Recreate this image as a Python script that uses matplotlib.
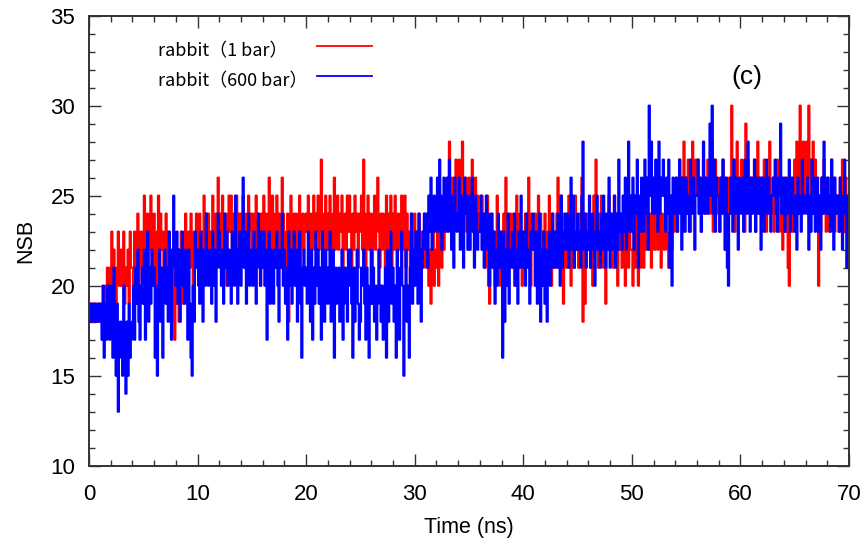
import numpy as np
import matplotlib.pyplot as plt

plt.rcParams['font.family'] = ['Liberation Sans', 'DejaVu Sans']

# NSB counts, one value every 0.1 ns, split per 10 ns
red_00 = [18, 19, 18, 19, 18, 19, 19, 18, 19, 18, 19, 18, 19, 18, 19, 20, 19, 21, 20, 19,
          21, 23, 19, 22, 20, 18, 21, 23, 20, 22, 20, 22, 23, 19, 21, 20, 22, 19, 23, 21,
          21, 20, 23, 22, 21, 24, 20, 22, 23, 21, 22, 25, 21, 23, 24, 20, 22, 25, 23, 21,
          24, 22, 20, 23, 25, 21, 24, 22, 23, 20, 22, 24, 21, 23, 20, 22, 18, 21, 19, 17,
          21, 19, 22, 18, 20, 23, 21, 19, 22, 24, 22, 20, 23, 21, 24, 22, 19, 23, 21, 24]
red_10 = [23, 21, 24, 22, 20, 23, 25, 21, 24, 22, 24, 22, 23, 21, 25, 23, 20, 24, 22, 26,
          22, 24, 21, 25, 23, 22, 24, 20, 23, 25, 23, 25, 22, 24, 21, 23, 25, 22, 24, 23,
          24, 22, 25, 23, 21, 24, 22, 25, 23, 24, 22, 24, 23, 21, 25, 22, 24, 23, 20, 24,
          23, 25, 22, 24, 23, 21, 26, 24, 22, 25, 24, 22, 23, 25, 21, 24, 22, 23, 26, 24,
          23, 21, 19, 24, 18, 22, 25, 23, 21, 24, 22, 24, 23, 21, 25, 20, 23, 24, 22, 23]
red_20 = [24, 23, 25, 21, 24, 22, 23, 25, 22, 24, 23, 25, 22, 24, 27, 23, 21, 24, 25, 22,
          24, 22, 25, 23, 21, 24, 26, 22, 23, 25, 22, 24, 23, 25, 21, 23, 24, 22, 25, 23,
          25, 23, 21, 24, 22, 25, 23, 24, 21, 24, 23, 25, 22, 27, 24, 21, 23, 25, 22, 24,
          24, 21, 23, 25, 22, 24, 26, 23, 21, 24, 22, 24, 23, 21, 25, 22, 24, 23, 25, 21,
          24, 22, 25, 23, 21, 24, 22, 23, 25, 22, 23, 25, 21, 24, 22, 23, 20, 24, 22, 23]
red_30 = [24, 22, 23, 21, 24, 22, 20, 23, 21, 24, 22, 21, 23, 20, 22, 19, 21, 23, 20, 22,
          21, 23, 20, 22, 24, 21, 23, 22, 25, 23, 24, 26, 28, 25, 23, 26, 24, 25, 27, 24,
          25, 27, 24, 26, 28, 25, 24, 26, 23, 25, 26, 24, 25, 27, 23, 25, 26, 24, 25, 23,
          24, 23, 25, 22, 24, 21, 23, 25, 20, 19, 22, 24, 21, 23, 20, 22, 25, 21, 23, 20,
          23, 21, 24, 22, 26, 20, 23, 21, 24, 22, 21, 24, 20, 22, 25, 23, 21, 24, 22, 20]
red_40 = [23, 22, 24, 21, 23, 26, 22, 20, 24, 23, 22, 24, 23, 21, 25, 22, 24, 20, 23, 22,
          24, 22, 21, 23, 25, 22, 20, 24, 23, 21, 22, 24, 26, 21, 23, 25, 22, 19, 24, 23,
          21, 23, 25, 22, 20, 24, 23, 21, 25, 22, 23, 21, 24, 22, 26, 18, 23, 19, 22, 24,
          22, 24, 21, 23, 20, 25, 22, 27, 23, 21, 24, 22, 25, 23, 21, 24, 19, 23, 22, 25,
          22, 24, 23, 21, 25, 22, 24, 20, 23, 22, 23, 21, 24, 22, 20, 25, 23, 21, 24, 22]
red_50 = [22, 20, 23, 21, 24, 22, 20, 23, 21, 24, 23, 21, 24, 22, 25, 23, 22, 24, 21, 23,
          24, 22, 23, 25, 22, 24, 23, 21, 24, 23, 22, 23, 24, 22, 21, 23, 24, 22, 25, 23,
          24, 26, 23, 25, 27, 24, 26, 23, 28, 25, 26, 24, 27, 25, 23, 26, 28, 24, 25, 27,
          25, 27, 24, 26, 23, 25, 27, 26, 24, 25, 27, 25, 24, 26, 28, 23, 25, 27, 24, 26,
          25, 23, 26, 24, 27, 25, 22, 26, 24, 25, 26, 24, 30, 25, 27, 23, 26, 28, 24, 25]
red_60 = [25, 27, 24, 26, 23, 29, 25, 27, 24, 26, 24, 26, 25, 27, 23, 25, 28, 24, 26, 25,
          26, 24, 27, 25, 23, 26, 24, 28, 25, 24, 25, 23, 26, 24, 27, 25, 23, 26, 24, 22,
          24, 26, 23, 25, 21, 20, 24, 26, 23, 25, 27, 25, 28, 26, 24, 30, 27, 25, 28, 26,
          25, 28, 26, 30, 27, 24, 26, 28, 25, 27, 26, 24, 20, 25, 23, 26, 24, 27, 25, 23,
          24, 26, 23, 25, 27, 24, 26, 23, 25, 24, 25, 23, 26, 24, 27, 25, 23, 26, 24, 25]

blue_00 = [18, 19, 18, 19, 19, 18, 19, 18, 18, 19, 19, 18, 17, 20, 16, 19, 17, 20, 18, 17,
           20, 18, 16, 21, 17, 15, 19, 13, 16, 18, 17, 15, 20, 16, 14, 18, 15, 19, 16, 17,
           18, 20, 17, 21, 19, 22, 18, 17, 20, 21, 19, 22, 17, 20, 23, 18, 21, 19, 22, 20,
           21, 16, 20, 15, 19, 22, 18, 21, 16, 20, 22, 19, 21, 18, 23, 20, 17, 22, 25, 21,
           20, 23, 19, 22, 18, 21, 23, 20, 19, 22, 21, 17, 22, 19, 16, 15, 20, 18, 23, 21]
blue_10 = [22, 20, 19, 23, 21, 18, 22, 20, 24, 21, 20, 22, 21, 19, 23, 20, 22, 18, 21, 24,
           23, 21, 20, 22, 19, 24, 21, 23, 20, 22, 21, 19, 23, 22, 20, 25, 21, 19, 22, 23,
           20, 22, 26, 21, 23, 19, 22, 24, 20, 21, 22, 20, 23, 21, 19, 22, 24, 21, 20, 23,
           21, 23, 20, 22, 17, 21, 23, 19, 22, 20, 19, 22, 21, 23, 20, 18, 22, 21, 24, 20,
           22, 19, 21, 17, 23, 20, 22, 19, 21, 23, 20, 22, 18, 21, 23, 19, 16, 21, 22, 20]
blue_20 = [21, 19, 23, 20, 18, 22, 17, 21, 19, 23, 20, 22, 19, 21, 17, 23, 20, 18, 22, 21,
           19, 21, 23, 18, 20, 22, 16, 21, 19, 20, 21, 18, 20, 22, 17, 19, 21, 20, 18, 22,
           20, 22, 19, 16, 21, 18, 20, 22, 19, 17, 18, 21, 20, 22, 19, 17, 21, 20, 16, 19,
           22, 19, 21, 18, 20, 17, 19, 22, 20, 18, 20, 17, 19, 21, 16, 22, 18, 20, 23, 19,
           21, 18, 20, 16, 22, 19, 17, 21, 23, 20, 15, 19, 22, 18, 20, 16, 21, 24, 19, 22]
blue_30 = [20, 23, 21, 19, 24, 22, 18, 21, 23, 24, 22, 24, 21, 25, 23, 26, 22, 24, 25, 23,
           24, 26, 23, 27, 25, 22, 24, 26, 23, 25, 26, 23, 27, 24, 22, 25, 21, 26, 24, 23,
           24, 26, 22, 25, 23, 21, 26, 24, 25, 22, 25, 22, 24, 26, 23, 21, 25, 24, 22, 23,
           23, 25, 22, 24, 21, 23, 25, 22, 24, 20, 22, 24, 21, 23, 19, 22, 20, 24, 21, 23,
           21, 16, 23, 18, 22, 20, 24, 19, 21, 22, 23, 21, 24, 20, 22, 19, 23, 21, 25, 22]
blue_40 = [21, 23, 20, 24, 22, 21, 19, 23, 22, 24, 22, 20, 23, 19, 21, 24, 18, 22, 20, 23,
           19, 22, 18, 21, 23, 20, 22, 24, 21, 23, 23, 21, 24, 22, 20, 25, 21, 23, 22, 24,
           22, 24, 21, 23, 26, 22, 25, 21, 23, 22, 24, 22, 23, 21, 25, 28, 22, 24, 21, 23,
           22, 25, 21, 23, 24, 22, 20, 23, 25, 22, 23, 21, 24, 22, 25, 23, 21, 24, 22, 26,
           21, 24, 22, 23, 25, 21, 24, 22, 27, 23, 24, 22, 25, 23, 26, 22, 24, 28, 23, 25]
blue_50 = [23, 26, 22, 25, 24, 27, 21, 25, 23, 26, 25, 23, 27, 24, 26, 22, 30, 25, 28, 24,
           26, 24, 27, 25, 23, 28, 24, 26, 25, 27, 25, 23, 26, 24, 27, 21, 25, 20, 26, 24,
           24, 26, 23, 25, 27, 24, 22, 26, 25, 23, 26, 24, 25, 23, 27, 25, 24, 26, 22, 25,
           25, 27, 24, 26, 23, 25, 28, 24, 26, 25, 24, 26, 29, 25, 30, 24, 27, 23, 26, 25,
           25, 23, 26, 24, 27, 25, 22, 26, 21, 20, 24, 26, 25, 23, 27, 24, 26, 25, 22, 26]
blue_60 = [25, 24, 26, 23, 27, 25, 24, 28, 25, 23, 26, 24, 25, 27, 23, 26, 25, 24, 26, 22,
           24, 26, 23, 25, 27, 24, 26, 25, 23, 25, 26, 25, 27, 24, 23, 26, 25, 29, 24, 26,
           25, 23, 26, 24, 25, 27, 23, 25, 26, 24, 23, 25, 22, 26, 24, 25, 23, 27, 24, 25,
           25, 24, 26, 22, 25, 23, 27, 24, 26, 23, 24, 26, 23, 25, 22, 26, 24, 28, 25, 24,
           26, 24, 25, 23, 27, 25, 22, 26, 24, 25, 25, 23, 26, 24, 22, 25, 27, 24, 21, 25]

series_labels = ['rabbit（1 bar）', 'rabbit（600 bar）']
series_colors = ['#ff0000', '#0000ff']

red_nsb = red_00 + red_10 + red_20 + red_30 + red_40 + red_50 + red_60
blue_nsb = blue_00 + blue_10 + blue_20 + blue_30 + blue_40 + blue_50 + blue_60
time_ns = np.arange(len(red_nsb)) * 0.1

fig = plt.figure(figsize=(8.66, 5.4), dpi=100)
ax = fig.add_axes([0.1028, 0.1376, 0.8776, 0.8334])

for vals, col in zip([red_nsb, blue_nsb], series_colors):
    ax.plot(time_ns, vals, color=col, lw=1.6, drawstyle='steps-mid')

ax.set_xlim(0, 70)
ax.set_ylim(10, 35)
ax.set_xticks(np.arange(0, 71, 10))
ax.set_xticks(np.arange(0, 71, 2), minor=True)
ax.set_yticks(np.arange(10, 36, 5))
ax.set_yticks(np.arange(10, 36, 1), minor=True)
ax.tick_params(which='both', direction='in', top=True, right=True, color='#333333')
ax.tick_params(which='major', length=8.5, width=1.0, labelsize=16)
ax.tick_params(axis='x', which='major', pad=13)
ax.tick_params(axis='y', which='major', pad=10)
ax.tick_params(which='minor', length=4.3, width=1.0)
for sp in ax.spines.values():
    sp.set_linewidth(1.4)
    sp.set_color('#333333')

ax.set_xlabel('Time (ns)', fontsize=15.5)
ax.set_ylabel('NSB', fontsize=15.5)
ax.xaxis.set_label_coords(0.5, -0.114)
ax.yaxis.set_label_coords(-0.07, 0.5)

# gnuplot-style key: labels left-aligned, sample lines in a column to the right
for i, (lab, col) in enumerate(zip(series_labels, series_colors)):
    ty = 0.9216 - i * 0.0667
    ax.text(0.0908, ty, lab, transform=ax.transAxes, ha='left', va='center',
            fontsize=13, family=['Noto Sans CJK JP', 'DejaVu Sans'])
    ax.plot([0.300, 0.3724], [ty + 0.01, ty + 0.01], transform=ax.transAxes,
            color=col, lw=1.3, clip_on=False)

ax.text(0.866, 0.864, '(c)', transform=ax.transAxes, fontsize=19,
        ha='center', va='center')

fig.savefig('out.png', dpi=100)
